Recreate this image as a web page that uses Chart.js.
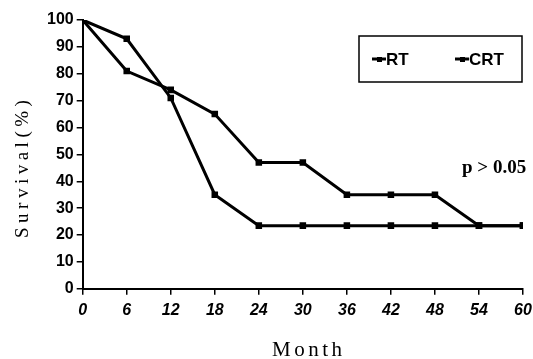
<!DOCTYPE html>
<html>
<head>
<meta charset="utf-8">
<script src="https://cdn.jsdelivr.net/npm/chart.js@4/dist/chart.umd.min.js"></script>
<style>
  html, body { margin: 0; padding: 0; background: #fff; }
  #wrap { width: 533px; height: 359px; position: relative; }
</style>
</head>
<body>
<div id="wrap"><canvas id="survChart"></canvas></div>
<script>
// values
const months = [0, 6, 12, 18, 24, 30, 36, 42, 48, 54, 60];
const rtSurvival = [100, 93, 71, 35, 23.5, 23.5, 23.5, 23.5, 23.5, 23.5, 23.5];
const crtSurvival = [100, 81, 74, 65, 47, 47, 35, 35, 35, 23.5, 23.5];
const yTicks = [0, 10, 20, 30, 40, 50, 60, 70, 80, 90, 100];
const pText = "p > 0.05";
const xTitle = "Month";
const yTitle = "Survival(%)";

const toPoints = (vals) => months.map((m, i) => ({ x: m, y: vals[i] }));

// boxed legend, axis titles and the p-value note
const extras = {
  id: "extras",
  afterDraw(chart) {
    const c = chart.ctx;
    c.save();
    c.strokeStyle = "#000";
    c.fillStyle = "#000";
    c.lineWidth = 1.5;
    c.strokeRect(359, 36, 163, 46);
    c.font = "bold 17px 'Liberation Sans', Arial, sans-serif";
    c.textBaseline = "middle";
    const items = [{ x: 372, label: chart.data.datasets[0].label }, { x: 455, label: chart.data.datasets[1].label }];
    items.forEach(it => {
      c.lineWidth = 3;
      c.beginPath();
      c.moveTo(it.x, 59);
      c.lineTo(it.x + 14, 59);
      c.stroke();
      c.fillRect(it.x + 5, 57, 5, 5);
      c.fillText(it.label, it.x + 14, 60);
    });

    c.font = "bold 19px 'Liberation Serif', 'Times New Roman', serif";
    c.fillText(pText, 462, 168);

    // axis titles, spaced out like the original
    c.font = "21px 'Liberation Serif', 'Times New Roman', serif";
    c.letterSpacing = "3.5px";
    c.textAlign = "left";
    c.fillText(xTitle, 272, 350);
    c.font = "19px 'Liberation Serif', 'Times New Roman', serif";
    c.translate(23, 238);
    c.rotate(-Math.PI / 2);
    c.letterSpacing = "4.5px";
    c.fillText(yTitle, 0, 0);
    c.restore();
  }
};

const ctx = document.getElementById("survChart").getContext("2d");
const lineSet = (label, vals) => ({
  label: label,
  data: toPoints(vals),
  borderColor: "#000",
  backgroundColor: "#000",
  borderWidth: 3,
  pointStyle: "rect",
  pointRadius: 2.5,
  tension: 0
});

new Chart(ctx, {
  type: "line",
  data: {
    datasets: [lineSet("RT", rtSurvival), lineSet("CRT", crtSurvival)]
  },
  options: {
    responsive: true,
    maintainAspectRatio: false,
    animation: false,
    layout: { padding: { top: 20, right: 0, left: 44, bottom: 33 } },
    plugins: { legend: { display: false }, tooltip: { enabled: false } },
    scales: {
      x: {
        type: "linear",
        min: 0,
        max: 60,
        afterBuildTicks: (axis) => { axis.ticks = months.map(v => ({ value: v })); },
        afterFit: (axis) => { axis.paddingRight = 10; },
        grid: { drawOnChartArea: false, color: "#000", tickLength: 6, lineWidth: 1.5 },
        border: { color: "#000", width: 2 },
        ticks: {
          color: "#000",
          padding: 6,
          maxRotation: 0,
          font: { family: "'Liberation Sans', Arial, sans-serif", size: 16, weight: "bold", style: "italic" }
        }
      },
      y: {
        min: 0,
        max: 100,
        afterBuildTicks: (axis) => { axis.ticks = yTicks.map(v => ({ value: v })); },
        grid: { drawOnChartArea: false, color: "#000", tickLength: 6, lineWidth: 1.5 },
        border: { color: "#000", width: 2 },
        ticks: {
          color: "#000",
          padding: 3,
          font: { family: "'Liberation Sans', Arial, sans-serif", size: 16, weight: "bold" }
        }
      }
    }
  },
  plugins: [extras]
});
</script>
</body>
</html>
